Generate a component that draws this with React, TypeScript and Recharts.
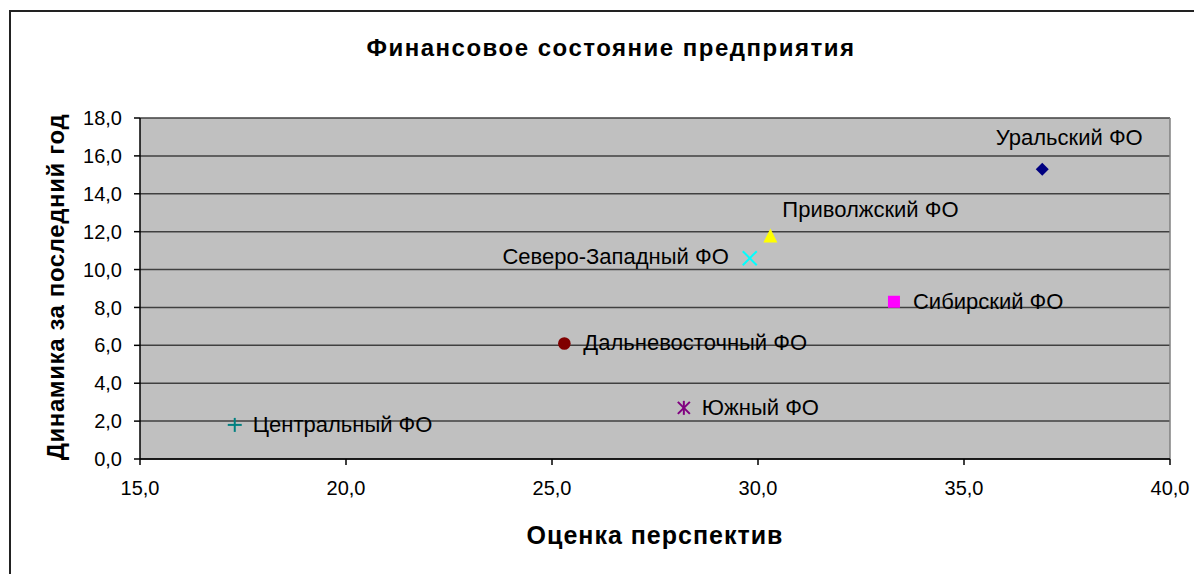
import React from "react";
import {
  ScatterChart,
  Scatter,
  XAxis,
  YAxis,
  CartesianGrid,
  ReferenceLine,
} from "recharts";

// ---- data ----
const regions = [
  "Уральский ФО",
  "Сибирский ФО",
  "Приволжский ФО",
  "Северо-Западный ФО",
  "Южный ФО",
  "Дальневосточный ФО",
  "Центральный ФО",
];
const prospects = [36.9, 33.3, 30.3, 29.8, 28.2, 25.3, 17.3];
const dynamics = [15.3, 8.3, 11.8, 10.6, 2.7, 6.1, 1.8];
const xTicks = [15, 20, 25, 30, 35, 40];
const yTicks = [0, 2, 4, 6, 8, 10, 12, 14, 16, 18];

const title = "Финансовое состояние предприятия";
const xTitle = "Оценка перспектив";
const yTitle = "Динамика за последний год";

// ---- styles ----
type Style = {
  color: string;
  marker: string;
  dx: number;
  dy: number;
  anchor: "start" | "middle" | "end";
};
const styles: Record<string, Style> = {
  "Уральский ФО": { color: "#000080", marker: "diamond", dx: 27, dy: -32, anchor: "middle" },
  "Сибирский ФО": { color: "#ff00ff", marker: "square", dx: 19, dy: 0, anchor: "start" },
  "Приволжский ФО": { color: "#ffff00", marker: "triangle", dx: 12, dy: -26, anchor: "start" },
  "Северо-Западный ФО": { color: "#00ffff", marker: "x", dx: -21, dy: -2, anchor: "end" },
  "Южный ФО": { color: "#800080", marker: "star", dx: 18, dy: 0, anchor: "start" },
  "Дальневосточный ФО": { color: "#800000", marker: "circle", dx: 19, dy: -1, anchor: "start" },
  "Центральный ФО": { color: "#008080", marker: "plus", dx: 18, dy: 0, anchor: "start" },
};

const FONT = "'Liberation Sans', Arial, sans-serif";
const fmt = (v: number) => v.toFixed(1).replace(".", ",");

function Marker({ type, cx, cy, color }: { type: string; cx: number; cy: number; color: string }) {
  switch (type) {
    case "diamond":
      return (
        <polygon
          points={`${cx},${cy - 6.5} ${cx + 6.5},${cy} ${cx},${cy + 6.5} ${cx - 6.5},${cy}`}
          fill={color}
        />
      );
    case "square":
      return <rect x={cx - 6} y={cy - 6} width={12} height={12} fill={color} />;
    case "triangle":
      return (
        <polygon
          points={`${cx},${cy - 7} ${cx + 7},${cy + 7} ${cx - 7},${cy + 7}`}
          fill={color}
        />
      );
    case "x":
      return (
        <g stroke={color} strokeWidth={2}>
          <line x1={cx - 7} y1={cy - 7} x2={cx + 7} y2={cy + 7} />
          <line x1={cx - 7} y1={cy + 7} x2={cx + 7} y2={cy - 7} />
        </g>
      );
    case "star":
      return (
        <g stroke={color} strokeWidth={2}>
          <line x1={cx - 6} y1={cy - 6} x2={cx + 6} y2={cy + 6} />
          <line x1={cx - 6} y1={cy + 6} x2={cx + 6} y2={cy - 6} />
          <line x1={cx} y1={cy - 7} x2={cx} y2={cy + 7} />
        </g>
      );
    case "circle":
      return <circle cx={cx} cy={cy} r={6.3} fill={color} />;
    case "plus":
    default:
      return (
        <g stroke={color} strokeWidth={2}>
          <line x1={cx - 7} y1={cy} x2={cx + 7} y2={cy} />
          <line x1={cx} y1={cy - 7} x2={cx} y2={cy + 7} />
        </g>
      );
  }
}

const makeShape = (name: string) => (props: any) => {
  const s = styles[name];
  const { cx, cy } = props;
  return (
    <g>
      <Marker type={s.marker} cx={cx} cy={cy} color={s.color} />
      <text
        x={cx + s.dx}
        y={cy + s.dy}
        textAnchor={s.anchor}
        dominantBaseline="central"
        fontFamily={FONT}
        fontSize={22}
        fill="#000"
      >
        {name}
      </text>
    </g>
  );
};

const W = 1194;
const H = 566;

export default function App() {
  return (
    <div style={{ position: "relative", width: W, height: H }}>
      <ScatterChart
        width={W}
        height={H}
        margin={{ top: 110, right: 32, bottom: 75, left: 72 }}
      >
        <CartesianGrid
          horizontal
          vertical={false}
          stroke="#404040"
          strokeWidth={1.5}
          fill="#c0c0c0"
          fillOpacity={1}
        />
        <XAxis
          type="number"
          dataKey="x"
          domain={[15, 40]}
          ticks={xTicks}
          tickFormatter={fmt}
          height={40}
          tickSize={6}
          tickMargin={16}
          stroke="#000"
          strokeWidth={1.5}
          tick={{ fontFamily: FONT, fontSize: 20, fill: "#000" }}
          allowDataOverflow
        />
        <YAxis
          type="number"
          dataKey="y"
          domain={[0, 18]}
          ticks={yTicks}
          tickFormatter={fmt}
          width={60}
          tickSize={6}
          tickMargin={12}
          stroke="#000"
          strokeWidth={1.5}
          tick={{ fontFamily: FONT, fontSize: 20, fill: "#000" }}
          allowDataOverflow
        />
        <ReferenceLine x={40} stroke="#808080" strokeWidth={1.5} />
        {regions.map((name, i) => (
          <Scatter
            key={name}
            name={name}
            data={[{ x: prospects[i], y: dynamics[i] }]}
            shape={makeShape(name)}
            isAnimationActive={false}
          />
        ))}
      </ScatterChart>
      <svg
        width={W}
        height={H}
        style={{ position: "absolute", left: 0, top: 0, pointerEvents: "none" }}
      >
        <path d={`M2,${H} L2,3 L${W},3`} fill="none" stroke="#222" strokeWidth={2} />
        <text
          x={603}
          y={39}
          textAnchor="middle"
          dominantBaseline="central"
          fontFamily={FONT}
          fontWeight="bold"
          fontSize={24}
          letterSpacing={1.5}
        >
          {title}
        </text>
        <text
          x={647}
          y={527}
          textAnchor="middle"
          dominantBaseline="central"
          fontFamily={FONT}
          fontWeight="bold"
          fontSize={25}
          letterSpacing={1.0}
        >
          {xTitle}
        </text>
        <text
          x={47}
          y={279}
          textAnchor="middle"
          dominantBaseline="central"
          fontFamily={FONT}
          fontWeight="bold"
          fontSize={24}
          letterSpacing={0.6}
          transform="rotate(-90 47 279)"
        >
          {yTitle}
        </text>
      </svg>
    </div>
  );
}
